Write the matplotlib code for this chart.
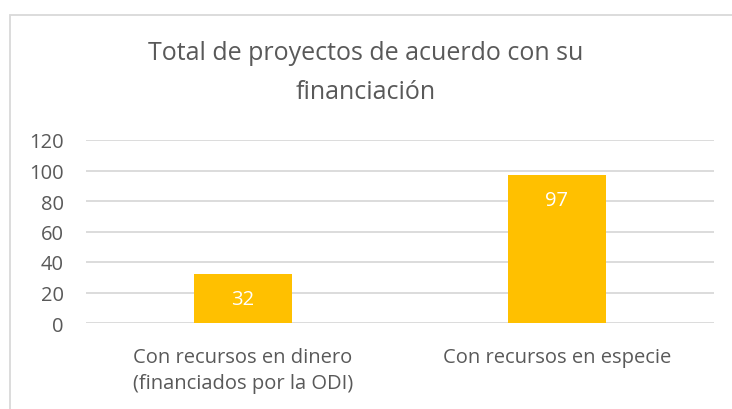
import matplotlib.pyplot as plt
from matplotlib.patches import Rectangle

categories = ["Con recursos en dinero\n(financiados por la ODI)", "Con recursos en especie"]
values = [32, 97]
yticks = [0, 20, 40, 60, 80, 100, 120]
title = "Total de proyectos de acuerdo con su\nfinanciación"

text_color = "#595959"
grid_color = "#D9D9D9"
bar_color = "#FFC000"

plt.rcParams['font.family'] = ['Open Sans', 'DejaVu Sans']

fig = plt.figure(figsize=(7.32, 4.10), dpi=100)

# chart border (cut off on right and bottom like the screenshot)
fig.patches.append(Rectangle((10 / 732, -0.05), 1.0, 0.961 + 0.05, transform=fig.transFigure,
                             fill=False, edgecolor=grid_color, linewidth=1.3))

ax = fig.add_axes([86 / 732, 1 - 324 / 410, (714 - 86) / 732, (324 - 141) / 410])
x = range(len(categories))
bars = ax.bar(x, values, width=0.315, color=bar_color, zorder=3)

ax.set_xlim(-0.5, 1.5)
ax.set_ylim(0, 120)
ax.set_yticks(yticks)
ax.set_yticklabels([str(t) for t in yticks], fontsize=14.5, color=text_color)
ax.set_xticks(list(x))
ax.set_xticklabels(categories, fontsize=14.5, color=text_color, linespacing=1.4)
ax.tick_params(axis='both', length=0)
ax.tick_params(axis='y', pad=16)
ax.tick_params(axis='x', pad=17)
ax.grid(axis='y', color=grid_color, linewidth=1.3, zorder=0)
for s in ax.spines.values():
    s.set_visible(False)

for b, v in zip(bars, values):
    ax.annotate(str(v), (b.get_x() + b.get_width() / 2, v), xytext=(0, -18),
                textcoords='offset points', ha='center', va='center',
                fontsize=14.5, color='white', zorder=4)

fig.text(0.5, 1 - 73 / 410, title, ha='center', va='center', fontsize=18,
         color=text_color, linespacing=1.75)

fig.savefig("out.png", dpi=100, facecolor='white')
